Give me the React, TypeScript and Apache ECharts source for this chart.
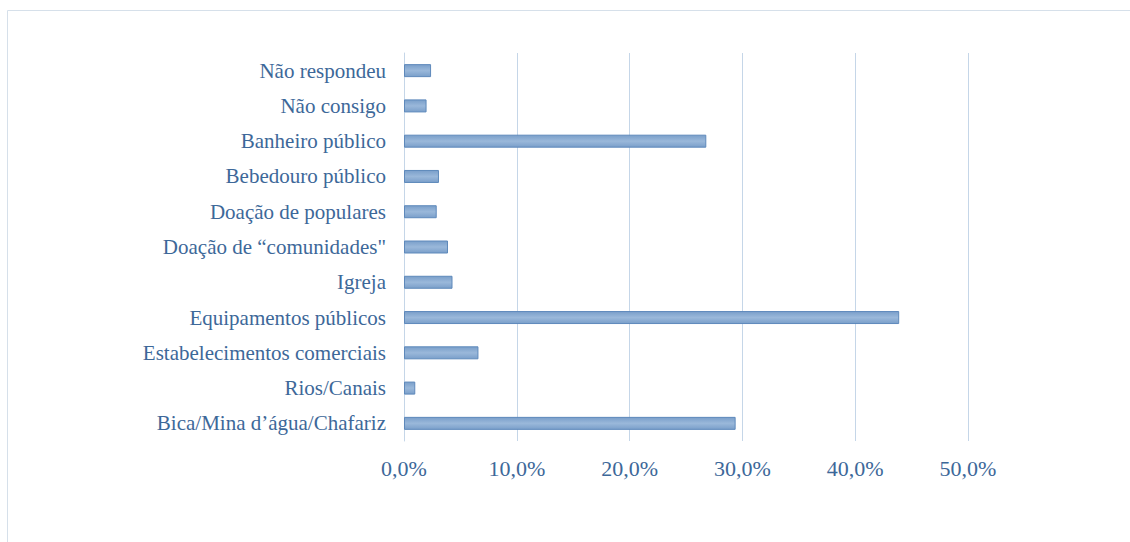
import React, { useEffect, useRef } from "react";
import * as echarts from "echarts";

const categories = [
  "Bica/Mina d’água/Chafariz",
  "Rios/Canais",
  "Estabelecimentos comerciais",
  "Equipamentos públicos",
  "Igreja",
  "Doação de “comunidades\"",
  "Doação de populares",
  "Bebedouro público",
  "Banheiro público",
  "Não consigo",
  "Não respondeu",
];
const values = [29.4, 1.0, 6.6, 43.9, 4.3, 3.9, 2.9, 3.1, 26.8, 2.0, 2.4];
const xTicks = [0, 10, 20, 30, 40, 50];

const textColor = "#3d6899";
const fontFamily = "'Liberation Serif', serif";

export default function App() {
  const ref = useRef<HTMLDivElement>(null);
  useEffect(() => {
    document.body.style.margin = "0";
    const chart = echarts.init(ref.current!, null, { renderer: "svg" });
    chart.setOption({
      animation: false,
      backgroundColor: "#ffffff",
      textStyle: { fontFamily },
      graphic: [
        {
          type: "rect",
          shape: { x: 7.5, y: 10.5, width: 1140, height: 560 },
          style: { fill: "none", stroke: "#d6e0ea", lineWidth: 1 },
          silent: true,
        },
      ],
      grid: { left: 404, right: 162, top: 53, bottom: 101, containLabel: false },
      xAxis: {
        type: "value",
        min: xTicks[0],
        max: xTicks[xTicks.length - 1],
        interval: 10,
        axisLine: { show: false },
        axisTick: { show: false },
        splitLine: { show: true, lineStyle: { color: "#c5d6e8", width: 1 } },
        axisLabel: {
          margin: 16,
          color: textColor,
          fontFamily,
          fontSize: 22,
          formatter: (v: number) => v.toFixed(1).replace(".", ",") + "%",
        },
      },
      yAxis: {
        type: "category",
        data: categories,
        axisLine: { show: true, lineStyle: { color: "#c5d6e8", width: 1 } },
        axisTick: { show: false },
        axisLabel: { margin: 18, color: textColor, fontFamily, fontSize: 21 },
      },
      series: [
        {
          type: "bar",
          data: values,
          barWidth: 13,
          itemStyle: {
            color: new echarts.graphic.LinearGradient(0, 0, 0, 1, [
              { offset: 0, color: "#7a9fca" },
              { offset: 0.5, color: "#9ab8da" },
              { offset: 1, color: "#7a9fca" },
            ]),
            borderColor: "#5e89bb",
            borderWidth: 1,
          },
        },
      ],
    });
    return () => chart.dispose();
  }, []);
  return <div ref={ref} style={{ width: 1130, height: 542 }} />;
}
